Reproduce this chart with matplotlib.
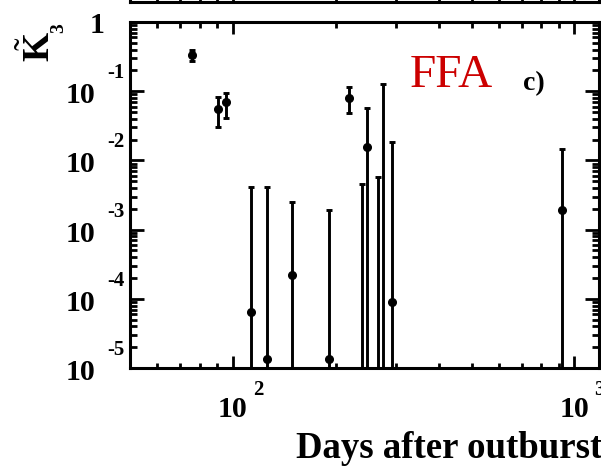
import matplotlib
matplotlib.use('Agg')
import matplotlib.pyplot as plt
from matplotlib.transforms import blended_transform_factory, ScaledTranslation
from matplotlib.ticker import LogLocator, NullFormatter
import numpy as np

# ---- data ----
days = [75.7, 90.6, 95.8, 113.4, 125.6, 149.3, 191.7, 219.3, 238.9, 246.6, 266.7, 274.3, 291.8, 920.8]
k3 = [0.335, 0.0553, 0.0691, 6.5e-5, 1.36e-5, 2.18e-4, 1.34e-5, 0.0789, 5e-6, 0.0158, 5e-6, 5e-6, 9.08e-5, 1.92e-3]
k3_hi = [0.40, 0.0833, 0.0951, 4.08e-3, 4.08e-3, 2.48e-3, 1.92e-3, 0.1138, 4.52e-3, 0.0566, 5.7e-3, 0.127, 0.0183, 0.0146]
k3_lo = [0.27, 0.0307, 0.0414, 1e-7, 1e-7, 1e-7, 1e-7, 0.048, 1e-7, 1e-7, 1e-7, 1e-7, 1e-7, 1e-7]

y_decades = [0, -1, -2, -3, -4, -5]
x_decades = [2, 3]
x_range = (50, 1180)
y_range = (1e-5, 1)

plt.rcParams['font.family'] = 'Liberation Serif'
plt.rcParams['mathtext.fontset'] = 'custom'
plt.rcParams['mathtext.rm'] = 'Liberation Serif'
plt.rcParams['mathtext.bf'] = 'Liberation Serif:bold'
plt.rcParams['mathtext.it'] = 'Liberation Serif:italic'

W, H = 601, 467
fig = plt.figure(figsize=(W / 100, H / 100), dpi=100)
L, R, T, B = 130, 599, 22, 368
ax = fig.add_axes([L / W, 1 - B / H, (R - L) / W, (B - T) / H])
ax.set_xscale('log')
ax.set_yscale('log')
ax.set_xlim(*x_range)
ax.set_ylim(*y_range)

k3a = np.array(k3)
yerr = [k3a - np.array(k3_lo), np.array(k3_hi) - k3a]
ax.errorbar(days, k3, yerr=yerr, fmt='o', color='black', ms=5.5,
            elinewidth=2.1, capsize=2.5, capthick=2.1)


def style_axis(a):
    a.tick_params(which='both', direction='in', top=True, right=True,
                  labelbottom=False, labelleft=False, width=2.0)
    a.tick_params(axis='x', which='major', length=12 * 0.72)
    a.tick_params(axis='x', which='minor', length=5.5 * 0.72)
    a.tick_params(axis='y', which='major', length=14 * 0.72)
    a.tick_params(axis='y', which='minor', length=7 * 0.72)
    a.xaxis.set_major_locator(LogLocator(base=10, numticks=20))
    a.xaxis.set_minor_locator(LogLocator(base=10, subs=np.arange(2, 10), numticks=40))
    a.xaxis.set_minor_formatter(NullFormatter())
    for s in a.spines.values():
        s.set_linewidth(2.2)


style_axis(ax)
ax.yaxis.set_major_locator(LogLocator(base=10, numticks=20))
ax.yaxis.set_minor_locator(LogLocator(base=10, subs=np.arange(2, 10), numticks=40))
ax.yaxis.set_minor_formatter(NullFormatter())

# panel above (mostly outside the figure)
ax2 = fig.add_axes([L / W, 1 - 2 / H, (R - L) / W, 0.5])
ax2.set_xscale('log')
ax2.set_xlim(*x_range)
ax2.set_yticks([])
style_axis(ax2)
ax2.tick_params(axis='y', which='both', left=False, right=False)


def off(dx, dy):
    return ScaledTranslation(dx / 100, -dy / 100, fig.dpi_scale_trans)


ytr = blended_transform_factory(ax.transAxes, ax.transData)
for k in y_decades:
    v = 10.0 ** k
    if k == 0:
        ax.text(0, v, '1', transform=ytr + off(-33, 11), ha='center', va='baseline',
                fontsize=21.5, fontweight='bold')
    else:
        ax.text(0, v, '10', transform=ytr + off(-50, 12), ha='center', va='baseline',
                fontsize=21.5, fontweight='bold')
        ax.text(0, v, f'-{-k}', transform=ytr + off(-14, -13), ha='center', va='baseline',
                fontsize=15, fontweight='bold')

xtr = blended_transform_factory(ax.transData, ax.transAxes)
for k in x_decades:
    v = 10.0 ** k
    ax.text(v, 0, '10', transform=xtr + off(0, 49), ha='center', va='baseline',
            fontsize=21.5, fontweight='bold')
    ax.text(v, 0, f'{k}', transform=xtr + off(25, 27), ha='center', va='baseline',
            fontsize=15, fontweight='bold')

# axis titles
fig.text(50 / W, 1 - 62 / H, r'$\tilde{\mathbf{K}}$', rotation=90, rotation_mode='anchor',
         ha='left', va='baseline', fontsize=27)
fig.text(63 / W, 1 - 33 / H, '3', rotation=90, rotation_mode='anchor',
         ha='left', va='baseline', fontsize=14, fontweight='bold')
fig.text(602 / W, 1 - 458 / H, 'Days after outburst', ha='right', va='baseline',
         fontsize=26.5, fontweight='bold')

fig.text(410 / W, 1 - 87 / H, 'FFA', ha='left', va='baseline', fontsize=34, color='#cc0000')
fig.text(523 / W, 1 - 90 / H, 'c)', ha='left', va='baseline', fontsize=20, fontweight='bold')

fig.savefig('out.png', dpi=100)
